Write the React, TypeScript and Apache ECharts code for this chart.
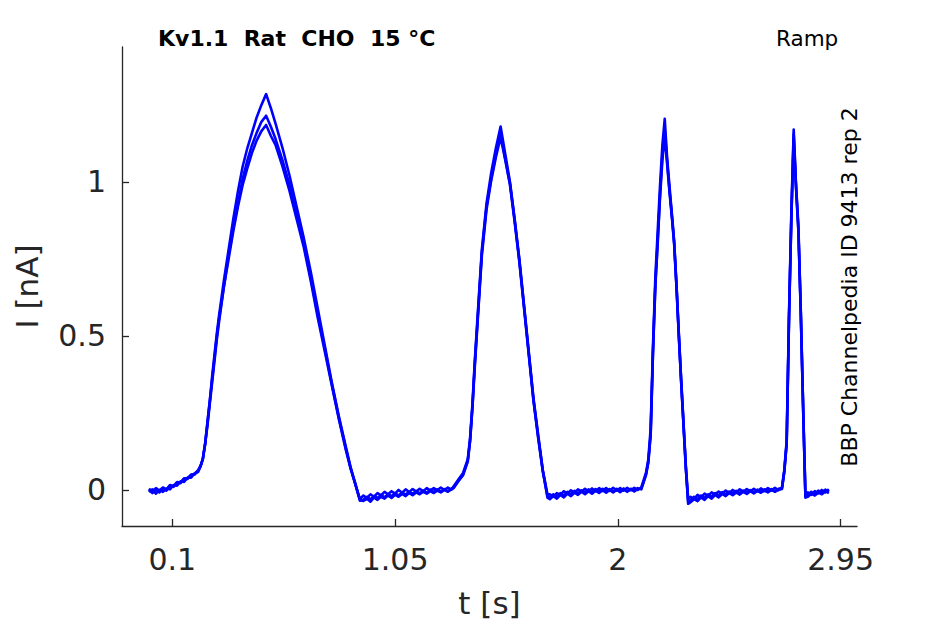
import React, { useEffect, useRef } from "react";
import * as echarts from "echarts";

const timeGrid: number[] = [
  0.0, 0.015, 0.03, 0.045, 0.06, 0.075, 0.09, 0.105, 0.12, 0.135, 0.15, 0.165, 0.18, 0.195, 0.21, 0.22,
  0.23, 0.24, 0.25, 0.26, 0.27, 0.28, 0.29, 0.3, 0.32, 0.34, 0.36, 0.38, 0.4, 0.42, 0.44, 0.46, 0.48, 0.5,
  0.52, 0.54, 0.57, 0.6, 0.63, 0.66, 0.69, 0.72, 0.75, 0.78, 0.81, 0.84, 0.86, 0.88, 0.9,
  0.915, 0.93, 0.945, 0.96, 0.975, 0.99, 1.005, 1.02, 1.035, 1.05, 1.065, 1.08, 1.095, 1.11, 1.125, 1.14, 1.155, 1.17, 1.185, 1.2, 1.215, 1.23, 1.245, 1.26, 1.275, 1.29,
  1.3, 1.32, 1.34, 1.36, 1.37, 1.38, 1.39, 1.4, 1.42, 1.44, 1.46, 1.48, 1.5,
  1.52, 1.54, 1.56, 1.58, 1.6, 1.62, 1.64, 1.66, 1.68, 1.7,
  1.71, 1.725, 1.74, 1.755, 1.77, 1.785, 1.8, 1.815, 1.83, 1.845, 1.86, 1.875, 1.89, 1.905, 1.92, 1.935, 1.95, 1.965, 1.98, 1.995, 2.01, 2.025, 2.04, 2.055, 2.07, 2.085, 2.1,
  2.12, 2.13, 2.14, 2.15, 2.16, 2.17, 2.18, 2.19, 2.2,
  2.21, 2.22, 2.23, 2.24, 2.25, 2.26, 2.27, 2.28, 2.29, 2.3,
  2.31, 2.325, 2.34, 2.355, 2.37, 2.385, 2.4, 2.415, 2.43, 2.445, 2.46, 2.475, 2.49, 2.505, 2.52, 2.535, 2.55, 2.565, 2.58, 2.595, 2.61, 2.625, 2.64, 2.655, 2.67, 2.685, 2.7,
  2.71, 2.72, 2.73, 2.74, 2.75,
  2.76, 2.77, 2.78, 2.79, 2.8,
  2.81, 2.825, 2.84, 2.855, 2.87, 2.885, 2.9,
];

const rep1: number[] = [
  0.004, -0.004, 0.006, -0.002, 0.008, 0.002, 0.016, 0.012, 0.026, 0.024, 0.038, 0.038, 0.05, 0.052, 0.064, 0.078,
  0.1, 0.15, 0.22, 0.29, 0.37, 0.44, 0.51, 0.57, 0.68, 0.78, 0.88, 0.97, 1.05, 1.11, 1.16, 1.21, 1.25, 1.285,
  1.24, 1.19, 1.11, 1.02, 0.92, 0.82, 0.71, 0.59, 0.47, 0.35, 0.24, 0.14, 0.075, 0.02, -0.03,
  -0.018, -0.026, -0.014, -0.022, -0.01, -0.018, -0.006, -0.014, -0.004, -0.012, 0.0, -0.009, 0.002, -0.007, 0.003, -0.005, 0.004, -0.004, 0.006, -0.002, 0.006, -0.001, 0.008, 0.0, 0.008, 0.001,
  0.012, 0.034, 0.055, 0.1, 0.17, 0.28, 0.42, 0.54, 0.78, 0.93, 1.03, 1.11, 1.18,
  1.09, 1.0, 0.88, 0.75, 0.6, 0.45, 0.3, 0.18, 0.065, -0.015,
  -0.014, -0.022, -0.01, -0.016, -0.004, -0.012, -0.001, -0.009, 0.002, -0.006, 0.004, -0.005, 0.005, -0.004, 0.006, -0.003, 0.006, -0.003, 0.007, -0.002, 0.006, -0.002, 0.007, -0.001, 0.007, 0.0, 0.008,
  0.055, 0.1, 0.2, 0.47, 0.69, 0.84, 0.99, 1.12, 1.205,
  1.08, 0.99, 0.9, 0.81, 0.67, 0.51, 0.36, 0.22, 0.08, -0.03,
  -0.022, -0.03, -0.016, -0.024, -0.012, -0.019, -0.008, -0.015, -0.005, -0.012, -0.002, -0.01, 0.0, -0.008, 0.002, -0.006, 0.003, -0.005, 0.004, -0.004, 0.005, -0.003, 0.006, -0.002, 0.007, -0.001, 0.008,
  0.065, 0.16, 0.57, 0.9, 1.17,
  0.99, 0.86, 0.59, 0.28, -0.015,
  -0.008, -0.016, -0.004, -0.011, 0.0, -0.008, 0.002,
];

const rep2: number[] = [
  -0.006, 0.002, -0.012, 0.0, -0.006, 0.004, 0.002, 0.016, 0.014, 0.028, 0.026, 0.04, 0.04, 0.054, 0.058, 0.076,
  0.1, 0.15, 0.21, 0.28, 0.35, 0.42, 0.49, 0.55, 0.66, 0.76, 0.85, 0.93, 1.01, 1.07, 1.12, 1.16, 1.195, 1.215,
  1.18, 1.14, 1.07, 0.99, 0.9, 0.8, 0.69, 0.57, 0.46, 0.345, 0.235, 0.135, 0.072, 0.022, -0.032,
  -0.036, -0.028, -0.038, -0.024, -0.032, -0.022, -0.028, -0.018, -0.026, -0.016, -0.022, -0.013, -0.02, -0.01, -0.017, -0.008, -0.014, -0.006, -0.012, -0.004, -0.01, -0.002, -0.008, 0.0, -0.006, 0.002,
  0.006, 0.028, 0.048, 0.092, 0.16, 0.27, 0.41, 0.53, 0.77, 0.92, 1.01, 1.09, 1.16,
  1.075, 0.995, 0.875, 0.745, 0.595, 0.445, 0.295, 0.175, 0.062, -0.025,
  -0.03, -0.02, -0.028, -0.016, -0.024, -0.012, -0.02, -0.009, -0.016, -0.006, -0.014, -0.004, -0.012, -0.002, -0.01, -0.001, -0.009, 0.0, -0.008, 0.001, -0.007, 0.002, -0.006, 0.002, -0.005, 0.003, 0.004,
  0.048, 0.09, 0.18, 0.45, 0.67, 0.81, 0.96, 1.09, 1.17,
  1.07, 0.975, 0.895, 0.805, 0.665, 0.505, 0.355, 0.215, 0.072, -0.045,
  -0.04, -0.03, -0.036, -0.024, -0.032, -0.02, -0.028, -0.016, -0.024, -0.013, -0.02, -0.01, -0.017, -0.008, -0.015, -0.006, -0.013, -0.004, -0.011, -0.003, -0.009, -0.002, -0.008, 0.0, -0.006, 0.001, 0.003,
  0.06, 0.15, 0.56, 0.885, 1.155,
  0.985, 0.845, 0.585, 0.275, -0.025,
  -0.022, -0.012, -0.018, -0.008, -0.014, -0.004, -0.01,
];

const rep3: number[] = [
  0.0, -0.01, 0.002, -0.008, 0.006, -0.002, 0.014, 0.01, 0.024, 0.022, 0.036, 0.036, 0.048, 0.05, 0.062, 0.076,
  0.1, 0.15, 0.22, 0.29, 0.36, 0.43, 0.5, 0.56, 0.66, 0.75, 0.84, 0.92, 0.99, 1.045, 1.095, 1.135, 1.165, 1.185,
  1.15, 1.12, 1.05, 0.97, 0.88, 0.79, 0.68, 0.56, 0.45, 0.34, 0.23, 0.13, 0.07, 0.02, -0.035,
  -0.032, -0.022, -0.03, -0.02, -0.026, -0.016, -0.024, -0.014, -0.02, -0.01, -0.018, -0.008, -0.015, -0.006, -0.012, -0.004, -0.011, -0.002, -0.009, 0.001, -0.007, 0.002, -0.005, 0.003, -0.004, 0.004,
  0.008, 0.03, 0.05, 0.095, 0.16, 0.27, 0.4, 0.52, 0.76, 0.91, 1.005, 1.08, 1.145,
  1.07, 0.99, 0.87, 0.74, 0.59, 0.44, 0.29, 0.17, 0.06, -0.02,
  -0.024, -0.014, -0.022, -0.01, -0.018, -0.006, -0.014, -0.003, -0.011, -0.001, -0.009, 0.002, -0.007, 0.003, -0.006, 0.004, -0.005, 0.003, -0.006, 0.004, -0.004, 0.005, -0.004, 0.004, -0.003, 0.006, 0.002,
  0.05, 0.09, 0.18, 0.45, 0.66, 0.8, 0.95, 1.07, 1.15,
  1.06, 0.97, 0.89, 0.8, 0.66, 0.5, 0.35, 0.21, 0.07, -0.04,
  -0.034, -0.022, -0.03, -0.018, -0.026, -0.014, -0.022, -0.01, -0.018, -0.007, -0.015, -0.005, -0.012, -0.003, -0.01, -0.002, -0.009, 0.0, -0.008, 0.001, -0.006, 0.002, -0.005, 0.003, -0.004, 0.004, 0.006,
  0.06, 0.15, 0.55, 0.88, 1.14,
  0.98, 0.84, 0.58, 0.27, -0.02,
  -0.016, -0.006, -0.013, -0.002, -0.01, 0.001, -0.006,
];

const reps: number[][] = [rep1, rep2, rep3];
const xTicks: number[] = [0.1, 1.05, 2, 2.95];
const yTicks: number[] = [0, 0.5, 1];

const titleText = "Kv1.1  Rat  CHO  15 °C";
const protocolText = "Ramp";
const sideText = "BBP Channelpedia ID 9413 rep 2";

const FONT = "DejaVu Sans";
const AXIS_COLOR = "#262626";

export default function App() {
  const ref = useRef<HTMLDivElement>(null);
  useEffect(() => {
    document.body.style.margin = "0";
    if (!ref.current) return;
    const chart = echarts.init(ref.current, undefined, { renderer: "svg" });
    const series = reps.map((vals, i) => ({
      type: "line",
      name: "rep" + (i + 1),
      data: timeGrid.map((t, k) => [t, vals[k]]),
      showSymbol: false,
      symbol: "none",
      lineStyle: { color: "#0000ff", width: 2.6, join: "round" },
      itemStyle: { color: "#0000ff" },
      z: 3,
    }));
    chart.setOption({
      animation: false,
      backgroundColor: "#ffffff",
      grid: { left: 122, right: 88, top: 47, bottom: 98, containLabel: false },
      xAxis: {
        type: "value",
        min: -0.1146,
        max: 3.02,
        name: "t [s]",
        nameLocation: "middle",
        nameGap: 61,
        nameTextStyle: { fontFamily: FONT, fontSize: 31, color: AXIS_COLOR },
        axisLine: { show: true, onZero: false, lineStyle: { color: AXIS_COLOR, width: 1.3 } },
        axisTick: { show: true, inside: true, length: 7, customValues: xTicks, lineStyle: { color: AXIS_COLOR, width: 1.3 } },
        axisLabel: { customValues: xTicks, fontFamily: FONT, fontSize: 30, color: AXIS_COLOR, margin: 18 },
        splitLine: { show: false },
      },
      yAxis: {
        type: "value",
        min: -0.117,
        max: 1.438,
        name: "I [nA]",
        nameLocation: "middle",
        nameGap: 80,
        nameTextStyle: { fontFamily: FONT, fontSize: 31, color: AXIS_COLOR },
        axisLine: { show: true, onZero: false, lineStyle: { color: AXIS_COLOR, width: 1.3 } },
        axisTick: { show: true, inside: true, length: 7, customValues: yTicks, lineStyle: { color: AXIS_COLOR, width: 1.3 } },
        axisLabel: { customValues: yTicks, fontFamily: FONT, fontSize: 30, color: AXIS_COLOR, margin: 16 },
        splitLine: { show: false },
      },
      graphic: [
        {
          type: "text",
          left: 158,
          top: 27,
          style: { text: titleText, fontFamily: FONT, fontSize: 22, fontWeight: "bold", fill: "#000000" },
        },
        {
          type: "text",
          left: 776,
          top: 27,
          style: { text: protocolText, fontFamily: FONT, fontSize: 21.5, fill: "#000000" },
        },
        {
          type: "text",
          x: 849,
          y: 287,
          rotation: Math.PI / 2,
          style: { text: sideText, fontFamily: FONT, fontSize: 22, fill: "#000000", align: "center", verticalAlign: "middle" },
        },
      ],
      series,
    });
    return () => chart.dispose();
  }, []);
  return <div ref={ref} style={{ width: 945, height: 624 }} />;
}
